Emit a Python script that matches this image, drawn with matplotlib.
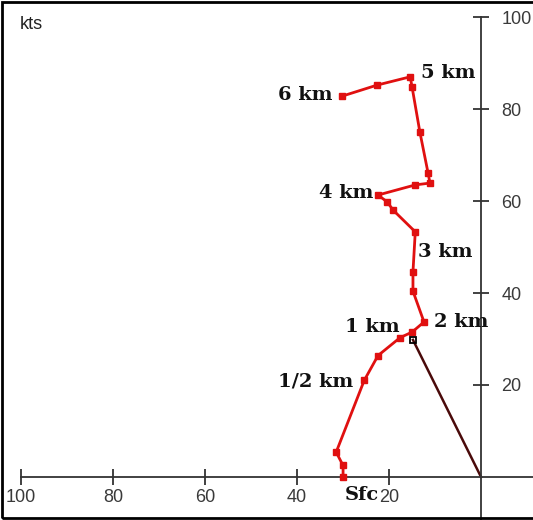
import numpy as np
import matplotlib
matplotlib.use('Agg')
import matplotlib.pyplot as plt
from matplotlib.patches import Rectangle

# hodograph points (kts), x is plotted reversed (left = larger value)
u = [30.0, 30.0, 31.5, 25.4, 22.4, 17.6, 15.0, 12.4, 14.8, 14.8, 14.3,
     19.1, 20.4, 22.4, 14.3, 11.1, 11.5, 13.3, 15.0, 15.4, 22.6, 30.2]
v = [0.0, 2.5, 5.4, 21.0, 26.4, 30.3, 31.5, 33.7, 40.4, 44.6, 53.3,
     58.0, 59.8, 61.3, 63.5, 63.9, 66.0, 75.0, 84.8, 87.0, 85.2, 82.8]

storm_u = 14.8
storm_v = 29.8

labels = ['6 km', '5 km', '4 km', '3 km', '2 km', '1 km', '1/2 km', 'Sfc']
lab_x = [32.3, 13.0, 23.5, 13.7, 10.2, 17.6, 27.8, 29.6]
lab_y = [83.0, 87.8, 61.7, 48.9, 33.7, 32.6, 20.7, -3.9]
lab_ha = ['right', 'left', 'right', 'left', 'left', 'right', 'right', 'left']

ticks = [100, 80, 60, 40, 20]

fig = plt.figure(figsize=(5.33, 5.2), dpi=100)
ax = fig.add_axes([0, 0, 1, 1])
ax.set_xlim(104.6, -11.3)
ax.set_ylim(-9.35, 103.7)

# storm motion
ax.plot([0, storm_u], [0, storm_v], color='#4a0a0a', lw=1.8, zorder=2)
ax.plot(u, v, color='#e01010', lw=2, marker='s', ms=4.5, zorder=3)
ax.plot([storm_u], [storm_v], marker='s', ms=5, mfc='none', mec='black', mew=1.3, zorder=4)

for t, x, y, ha in zip(labels, lab_x, lab_y, lab_ha):
    ax.text(x, y, t, ha=ha, va='center', fontsize=14, fontweight='bold',
            family='DejaVu Serif', color='#111111')

# axes through origin
for s in ['top', 'left']:
    ax.spines[s].set_visible(False)
ax.spines['bottom'].set_position(('data', 0))
ax.spines['right'].set_position(('data', 0))
ax.spines['bottom'].set_bounds(-11.3, 100)
ax.spines['right'].set_bounds(-9.35, 100)
for s in ['bottom', 'right']:
    ax.spines[s].set_color('#333333')
    ax.spines[s].set_linewidth(1.3)
ax.yaxis.tick_right()
ax.set_xticks(ticks)
ax.set_yticks(ticks)
ax.tick_params(direction='inout', length=11, width=1.3, color='#333333',
               labelsize=13, labelcolor='#3a3a3a')
for lb in ax.get_xticklabels() + ax.get_yticklabels():
    lb.set_family('Liberation Sans')
ax.tick_params(axis='x', pad=3)
ax.tick_params(axis='y', pad=9)

fig.text(20 / 533, 1 - 24 / 520, 'kts', fontsize=13, color='#222222',
         va='center', ha='left', family='Liberation Sans')

fig.add_artist(Rectangle((0.004, 0.003), 1.2, 0.993, transform=fig.transFigure,
                         fill=False, ec='black', lw=2.0))

fig.savefig('out.png', dpi=100)
